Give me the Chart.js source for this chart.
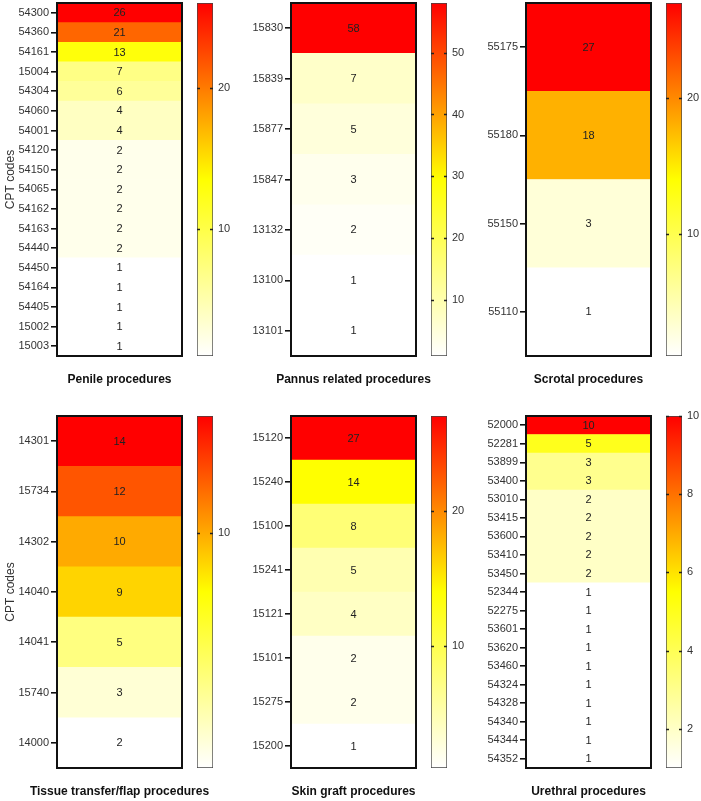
<!DOCTYPE html>
<html>
<head>
<meta charset="utf-8">
<script src="https://cdn.jsdelivr.net/npm/chart.js@4.4.1/dist/chart.umd.min.js"></script>
<style>
  html, body { margin: 0; padding: 0; background: #fff; }
  #wrap { position: relative; width: 701px; height: 801px; overflow: hidden; }
  #wrap canvas { position: absolute; }
</style>
</head>
<body>
<div id="wrap"></div>
<script>
// Datos de cada panel
const penileCodes = ["54300", "54360", "54161", "15004", "54304", "54060", "54001", "54120", "54150", "54065", "54162", "54163", "54440", "54450", "54164", "54405", "15002", "15003"];
const penileCounts = [26, 21, 13, 7, 6, 4, 4, 2, 2, 2, 2, 2, 2, 1, 1, 1, 1, 1];
const penileTicks = [10, 20];

const pannusCodes = ["15830", "15839", "15877", "15847", "13132", "13100", "13101"];
const pannusCounts = [58, 7, 5, 3, 2, 1, 1];
const pannusTicks = [10, 20, 30, 40, 50];

const scrotalCodes = ["55175", "55180", "55150", "55110"];
const scrotalCounts = [27, 18, 3, 1];
const scrotalTicks = [10, 20];

const flapCodes = ["14301", "15734", "14302", "14040", "14041", "15740", "14000"];
const flapCounts = [14, 12, 10, 9, 5, 3, 2];
const flapTicks = [10];

const graftCodes = ["15120", "15240", "15100", "15241", "15121", "15101", "15275", "15200"];
const graftCounts = [27, 14, 8, 5, 4, 2, 2, 1];
const graftTicks = [10, 20];

const urethralCodes = ["52000", "52281", "53899", "53400", "53010", "53415", "53600", "53410", "53450", "52344", "52275", "53601", "53620", "53460", "54324", "54328", "54340", "54344", "54352"];
const urethralCounts = [10, 5, 3, 3, 2, 2, 2, 2, 2, 1, 1, 1, 1, 1, 1, 1, 1, 1, 1];
const urethralTicks = [2, 4, 6, 8, 10];

const panels = [
  { title: "Penile procedures", codes: penileCodes, counts: penileCounts, ticks: penileTicks, col: 0, row: 0 },
  { title: "Pannus related procedures", codes: pannusCodes, counts: pannusCounts, ticks: pannusTicks, col: 1, row: 0 },
  { title: "Scrotal procedures", codes: scrotalCodes, counts: scrotalCounts, ticks: scrotalTicks, col: 2, row: 0 },
  { title: "Tissue transfer/flap procedures", codes: flapCodes, counts: flapCounts, ticks: flapTicks, col: 0, row: 1 },
  { title: "Skin graft procedures", codes: graftCodes, counts: graftCounts, ticks: graftTicks, col: 1, row: 1 },
  { title: "Urethral procedures", codes: urethralCodes, counts: urethralCounts, ticks: urethralTicks, col: 2, row: 1 },
];

// Geometría
const rows = [{ top: 3, bottom: 356, title: 380 }, { top: 416, bottom: 768, title: 792 }];
const boxLefts = [57, 291, 526];
const boxW = 125, axisW = 57, barW = 16, barGap = 15;
const FONT = "'Liberation Sans', Arial, Helvetica, sans-serif";

Chart.defaults.font.family = FONT;
Chart.defaults.animation = false;

// Escala de color: blanco -> amarillo -> rojo
function colorFor(v, min, max) {
  const t = max > min ? (v - min) / (max - min) : 0;
  if (t <= 0.5) {
    const b = Math.round(255 * (1 - 2 * t));
    return `rgb(255,255,${b})`;
  }
  const g = Math.round(255 * (2 - 2 * t));
  return `rgb(255,${g},0)`;
}

const wrap = document.getElementById("wrap");
function mkCanvas(left, top, w, h) {
  const c = document.createElement("canvas");
  c.width = w; c.height = h;
  c.style.left = left + "px"; c.style.top = top + "px";
  c.style.width = w + "px"; c.style.height = h + "px";
  wrap.appendChild(c);
  return c;
}

const frame = {
  id: "frame",
  afterDraw(chart) {
    const a = chart.chartArea, ctx = chart.ctx;
    ctx.save();
    ctx.strokeStyle = "#111";
    ctx.lineWidth = 2;
    ctx.strokeRect(a.left, a.top, a.right - a.left, a.bottom - a.top);
    ctx.restore();
  }
};

panels.forEach((p) => {
  const r = rows[p.row];
  const boxLeft = boxLefts[p.col];
  const cTop = r.top - 13;
  const H = r.title + 14 - cTop;
  const chartBottom = r.bottom - cTop;
  const min = Math.min(...p.counts), max = Math.max(...p.counts);

  // Texto dentro de cada celda y título inferior
  const cellText = {
    id: "cellText",
    afterDatasetsDraw(chart) {
      const ctx = chart.ctx;
      const meta = chart.getDatasetMeta(0);
      ctx.save();
      ctx.font = "11px " + FONT;
      ctx.fillStyle = "#222";
      ctx.textAlign = "center";
      ctx.textBaseline = "middle";
      meta.data.forEach((el, i) => {
        ctx.fillText(String(p.counts[i]), (el.x + el.base) / 2, el.y + 0.5);
      });
      const a = chart.chartArea;
      ctx.font = "bold 12px " + FONT;
      ctx.fillStyle = "#111";
      ctx.fillText(p.title, (a.left + a.right) / 2, a.bottom + (r.title - r.bottom));
      ctx.restore();
    }
  };

  const hm = mkCanvas(boxLeft - axisW, cTop, axisW + boxW + axisW, H);
  new Chart(hm, {
    type: "bar",
    data: {
      labels: p.codes,
      datasets: [{
        data: p.counts.map(() => 1),
        backgroundColor: p.counts.map((v) => colorFor(v, min, max)),
        borderWidth: 0,
        barPercentage: 1,
        categoryPercentage: 1,
      }]
    },
    options: {
      indexAxis: "y",
      responsive: false,
      layout: { padding: { top: 13, right: axisW, left: 0, bottom: H - chartBottom } },
      plugins: { legend: { display: false }, tooltip: { enabled: false } },
      scales: {
        x: { display: false, min: 0, max: 1 },
        y: {
          ticks: { color: "#333", font: { size: 11 }, padding: 2 },
          grid: { offset: false, drawOnChartArea: false, tickLength: 6, color: "#111", lineWidth: 1.6 },
          border: { display: false },
          title: {
            display: p.col === 0, text: "CPT codes", color: "#333",
            font: { size: 12 }, padding: { top: 3, bottom: 0 }
          },
          afterFit: (s) => { s.width = axisW; }
        }
      }
    },
    plugins: [cellText, frame]
  });

  // Barra de color
  const barMarks = {
    id: "barMarks",
    afterDraw(chart) {
      const s = chart.scales.y, a = chart.chartArea, ctx = chart.ctx;
      ctx.save();
      ctx.strokeStyle = "#222";
      ctx.lineWidth = 1.4;
      s.ticks.forEach((t) => {
        const y = Math.round(s.getPixelForValue(t.value)) + 0.5;
        ctx.beginPath();
        ctx.moveTo(a.left, y); ctx.lineTo(a.left + 3, y);
        ctx.moveTo(a.right - 3, y); ctx.lineTo(a.right, y);
        ctx.stroke();
      });
      ctx.restore();
    }
  };

  const cbW = barW + 32;
  const cb = mkCanvas(boxLeft + boxW + barGap, cTop, cbW, H);
  new Chart(cb, {
    type: "bar",
    data: {
      labels: [""],
      datasets: [{
        data: [[min, max]],
        backgroundColor: (ctx) => {
          const a = ctx.chart.chartArea;
          if (!a) return "#fff";
          const g = ctx.chart.ctx.createLinearGradient(0, a.bottom, 0, a.top);
          g.addColorStop(0, "#ffffff");
          g.addColorStop(0.5, "#ffff00");
          g.addColorStop(1, "#ff0000");
          return g;
        },
        borderColor: "#444",
        borderWidth: 1,
        borderSkipped: false,
        barPercentage: 1,
        categoryPercentage: 1,
      }]
    },
    options: {
      responsive: false,
      layout: { padding: { top: 13, bottom: H - chartBottom, left: 0, right: 0 } },
      plugins: { legend: { display: false }, tooltip: { enabled: false } },
      scales: {
        x: { display: false },
        y: {
          position: "right",
          min: min, max: max,
          ticks: { color: "#333", font: { size: 11 }, padding: 5 },
          grid: { display: false, drawTicks: false, tickLength: 0 },
          border: { display: false },
          afterBuildTicks: (s) => { s.ticks = p.ticks.map((v) => ({ value: v })); },
          afterFit: (s) => { s.width = cbW - barW; }
        }
      }
    },
    plugins: [barMarks]
  });
});
</script>
</body>
</html>
